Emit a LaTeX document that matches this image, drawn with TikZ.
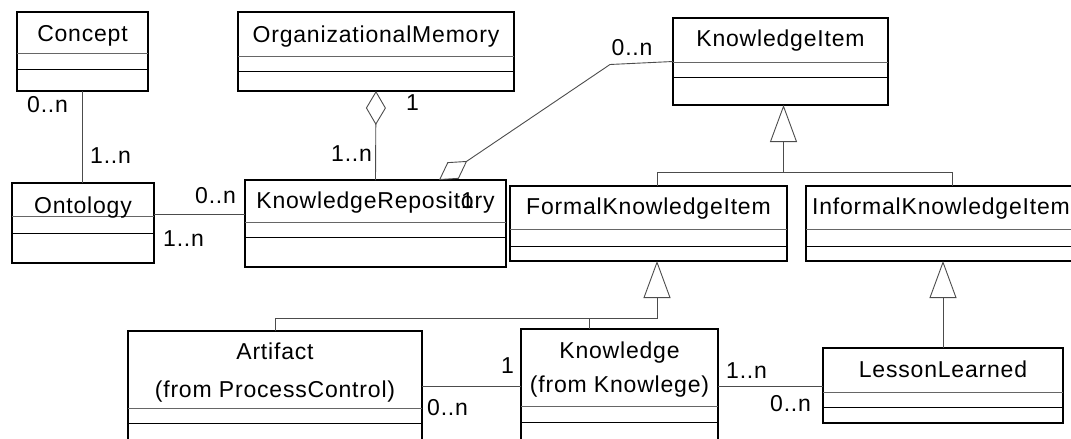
\documentclass[tikz,border=0pt]{standalone}
\usepackage{fontspec}
\setmainfont{Liberation Sans}[LetterSpace=3.5]
\usetikzlibrary{arrows.meta}
% name, x1, y1, x2, y2, first divider, second divider
\newcommand\umlbox[7]{%
  \node[box,minimum width={(#4-#2)*1pt},minimum height={(#5-#3)*1pt}] (#1) at (#2,#3) {};
  \draw[line width=1pt,black!60] (#2,#6) -- (#4,#6);
  \draw[line width=1pt,black] (#2,#7) -- (#4,#7);
}
\begin{document}
\begin{tikzpicture}[x=1pt,y=-1pt,
  box/.style={draw=black,line width=1.1pt,inner sep=0pt,outer sep=0pt,anchor=north west},
  ttl/.style={font=\fontsize{23}{28}\selectfont,inner sep=0pt,anchor=base},
  mul/.style={font=\fontsize{23}{28}\selectfont,inner sep=0pt,anchor=base west},
  conn/.style={draw=black!70,line width=0.9pt},
  aggr/.style={conn,-{Diamond[open,length=34pt,width=20pt]}},
  gen/.style={conn,{Triangle[open,length=37pt,width=27pt]}-},
]
\useasboundingbox (0,0) rectangle (1071,439);
\clip (0,0) rectangle (1071,439);

% classes
\umlbox{concept}{17}{12}{148}{91}{53}{69}
\node[ttl] (tconcept) at (82.5,41.5) {Concept};
\umlbox{ontology}{12}{183}{154}{263}{216}{233}
\node[ttl] (tontology) at (83,213) {Ontology};
\umlbox{orgmem}{238}{12}{514}{91}{56}{71}
\node[ttl] (torgmem) at (376,42.5) {OrganizationalMemory};
\umlbox{kr}{245}{180}{506}{267}{222}{237}
\node[ttl] (tkr) at (375.5,208.5) {KnowledgeRepository};
\umlbox{ki}{673}{18}{888}{105}{62}{77}
\draw[line width=2pt] (ki.south west) -- (ki.south east);
\node[ttl] (tki) at (780.5,46.5) {KnowledgeItem};
\umlbox{fki}{510}{186}{787}{261}{229}{246}
\node[ttl] (tfki) at (648.5,214.5) {FormalKnowledgeItem};
\umlbox{iki}{806}{186}{1076}{261}{229}{246}
\node[ttl] (tiki) at (941,214.5) {InformalKnowledgeItem};
\umlbox{artifact}{128}{331}{422}{470}{408}{423}
\node[ttl] (tartifact1) at (275,359.5) {Artifact};
\node[ttl] (tartifact2) at (275,397.5) {(from ProcessControl)};
\umlbox{knowledge}{521}{329}{718}{470}{406}{422}
\node[ttl] (tknowledge1) at (619.5,358.5) {Knowledge};
\node[ttl] (tknowledge2) at (619.5,392.5) {(from Knowlege)};
\umlbox{ll}{823}{348}{1063}{423}{392}{407}
\node[ttl] (tll) at (943,377.5) {LessonLearned};

% associations
\draw[conn] (concept.south) -- (concept.south |- ontology.north);
\draw[conn] (ontology.east |- 0,214) -- (kr.west |- 0,214);
\draw[conn] (artifact.east |- 0,386) -- (knowledge.west |- 0,386);
\draw[conn] (knowledge.east |- 0,386) -- (ll.west |- 0,386);

% aggregations
\draw[aggr] (kr.north) -- (orgmem.south);
\draw[aggr] (ki.west) -- ++(-63,3) -- ([xshift=194pt]kr.north west);

% generalizations
\draw[gen] ([xshift=3pt]ki.south) -- ++(0,67) -| ([xshift=8.5pt]fki.north);
\draw[conn] ([xshift=3pt]ki.south) ++(0,67) -| ([xshift=11pt]iki.north);
\draw[gen] ([xshift=8.5pt]fki.south) -- ++(0,57) -| (artifact.north);
\draw[conn] ([xshift=8.5pt]fki.south) ++(0,57) -| ([xshift=-30.5pt]knowledge.north);
\draw[gen] (ll.north |- iki.south) -- (ll.north);

% multiplicities
\node[mul] (m1) at (27,112.5) {0..n};
\node[mul] (m2) at (90,163.5) {1..n};
\node[mul] (m3) at (195,203.5) {0..n};
\node[mul] (m4) at (163,246.5) {1..n};
\node[mul] (m5) at (406,110) {1};
\node[mul] (m6) at (331,161.5) {1..n};
\node[mul] (m7) at (461,208.5) {1};
\node[mul] (m8) at (611.5,55) {0..n};
\node[mul] (m9) at (501,373) {1};
\node[mul] (m10) at (427,415) {0..n};
\node[mul] (m11) at (726,378) {1..n};
\node[mul] (m12) at (770,411.5) {0..n};
\end{tikzpicture}
\end{document}
